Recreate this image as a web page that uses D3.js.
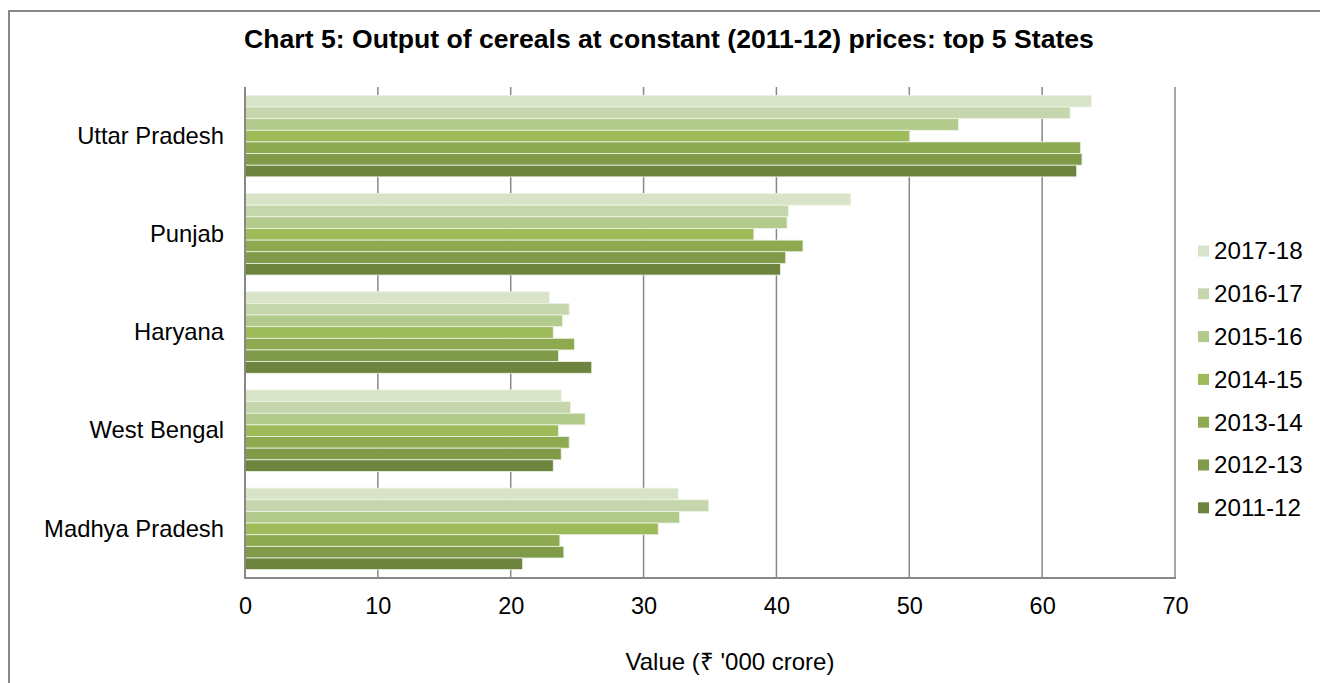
<!DOCTYPE html>
<html><head><meta charset="utf-8">
<script src="https://cdn.jsdelivr.net/npm/d3@7"></script>
<style>body{margin:0;background:#fff;}svg{display:block;font-family:Arial,"Liberation Sans",sans-serif;}</style>
</head><body>
<svg id="c" width="1320" height="683"></svg>
<script>
const states = ["Uttar Pradesh","Punjab","Haryana","West Bengal","Madhya Pradesh"];
const years = ["2017-18","2016-17","2015-16","2014-15","2013-14","2012-13","2011-12"];
const colors = ["#d8e3c7","#c6d6ac","#b3ca8d","#9dbb59","#8eaa51","#7f9a49","#6d843f"];
const v2017_18 = [63.7, 45.6, 22.9, 23.8, 32.6];
const v2016_17 = [62.1, 40.9, 24.4, 24.5, 34.9];
const v2015_16 = [53.7, 40.8, 23.9, 25.6, 32.7];
const v2014_15 = [50.0, 38.3, 23.2, 23.6, 31.1];
const v2013_14 = [62.9, 42.0, 24.8, 24.4, 23.7];
const v2012_13 = [63.0, 40.7, 23.6, 23.8, 24.0];
const v2011_12 = [62.6, 40.3, 26.1, 23.2, 20.9];
const xTicks = [0,10,20,30,40,50,60,70];
const series = [v2017_18,v2016_17,v2015_16,v2014_15,v2013_14,v2012_13,v2011_12];

const svg = d3.select("#c");
const FF = "Arial, 'Liberation Sans', sans-serif";
// outer frame
svg.append("rect").attr("x",9).attr("y",11).attr("width",1330).attr("height",700)
  .attr("fill","none").attr("stroke","#888").attr("stroke-width",2);

const m = {l:245, r:1175, t:87, b:578};
const x = d3.scaleLinear().domain([0,70]).range([m.l,m.r]);
const y = d3.scaleBand().domain(states).range([m.t,m.b]).paddingInner(0.17).paddingOuter(0.085);
const yi = d3.scaleBand().domain(years).range([0,y.bandwidth()]);

// gridlines
svg.append("g").selectAll("line").data(xTicks.slice(1)).join("line")
  .attr("x1",d=>x(d)).attr("x2",d=>x(d)).attr("y1",m.t).attr("y2",m.b)
  .attr("stroke","#888").attr("stroke-width",1.5);

// bars
const g = svg.append("g");
states.forEach((s,i)=>{
  years.forEach((yr,j)=>{
    g.append("rect").attr("x",x(0)).attr("y",y(s)+yi(yr))
      .attr("width",x(series[j][i])-x(0)).attr("height",yi.bandwidth())
      .attr("fill",colors[j]).attr("stroke","#eef3e6").attr("stroke-width",0.8);
  });
});

// axes lines
svg.append("line").attr("x1",m.l).attr("x2",m.l).attr("y1",m.t).attr("y2",m.b+1)
  .attr("stroke","#888").attr("stroke-width",2);
svg.append("line").attr("x1",m.l).attr("x2",m.r+1).attr("y1",m.b).attr("y2",m.b)
  .attr("stroke","#888").attr("stroke-width",2);

// x tick labels
const xa = d3.axisBottom(x).tickValues(xTicks).tickSize(0).tickPadding(19);
const xg = svg.append("g").attr("transform",`translate(0,${m.b})`).call(xa);
xg.select(".domain").remove();
xg.selectAll("text").attr("font-size",23.5).attr("fill","#000").attr("font-family",FF);

// y labels
const ya = d3.axisLeft(y).tickSize(0).tickPadding(21);
const yg = svg.append("g").attr("transform",`translate(${m.l},0)`).call(ya);
yg.select(".domain").remove();
yg.selectAll("text").attr("font-size",23.8).attr("fill","#000").attr("font-family",FF);

// title
svg.append("text").attr("x",669).attr("y",48).attr("text-anchor","middle")
  .attr("font-size",26.6).attr("font-weight","bold").attr("font-family",FF)
  .text("Chart 5: Output of cereals at constant (2011-12) prices: top 5 States");
// axis title
svg.append("text").attr("x",730).attr("y",670).attr("text-anchor","middle")
  .attr("font-size",24).attr("font-family",FF).text("Value (₹ '000 crore)");

// legend
const lg = svg.append("g");
years.forEach((yr,j)=>{
  const cy = 251 + j*42.8;
  lg.append("rect").attr("x",1198).attr("y",cy-5.5).attr("width",11).attr("height",11).attr("fill",colors[j]);
  lg.append("text").attr("x",1214).attr("y",cy).attr("dy","0.35em").attr("font-size",24.2).attr("font-family",FF).text(yr);
});
</script>
</body></html>
